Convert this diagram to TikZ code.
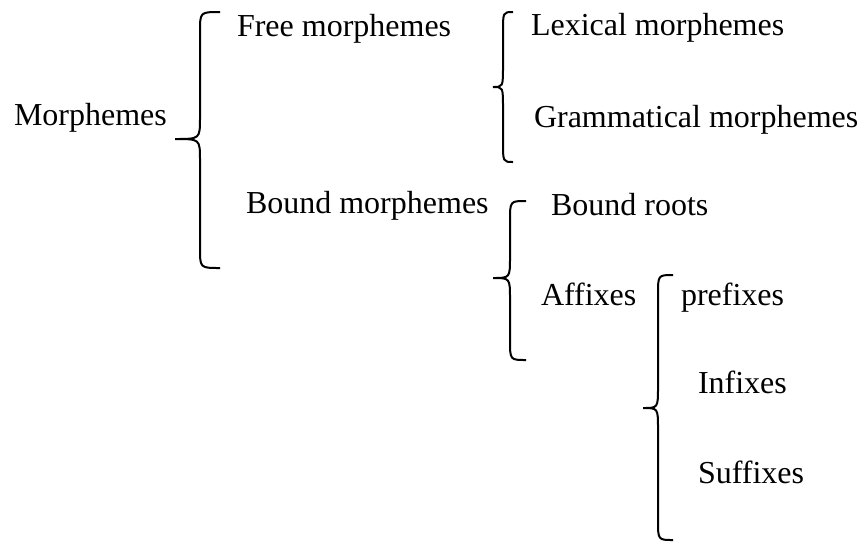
\documentclass[tikz,border=0pt]{standalone}
\usepackage{fontspec}
\setmainfont{Liberation Serif}
\tikzset{every path/.style={line width=2pt},
  word/.style={anchor=base west,inner sep=0pt,font=\fontsize{32}{38}\selectfont}}
% #1 end x, #2 spine x, #3 tip x, #4 top y, #5 tip y, #6 bottom y
\newcommand{\curlybrace}[6]{%
  \draw (#1,#4) .. controls (#2,#4) .. (#2,#4+20) -- (#2,#5-21)
    .. controls (#2,#5) .. (#3,#5) .. controls (#2,#5) .. (#2,#5+21)
    -- (#2,#6-20) .. controls (#2,#6) .. (#1,#6);}

\begin{document}
\begin{tikzpicture}[x=1pt,y=-1pt]
    \useasboundingbox (0,0) rectangle (867,542);
    \node[word] (morph) at (13,125) {Morphemes};
    \node[word] (free) at (236,36) {Free morphemes};
    \node[word] (bound) at (245,213) {Bound morphemes};
    \node[word] (lexical) at (530,35) {Lexical morphemes};
    \node[word] (gramm) at (533,127) {Grammatical morphemes};
    \node[word] (roots) at (550,215) {Bound roots};
    \node[word] (affixes) at (540,305) {Affixes};
    \node[word] (prefixes) at (680,305) {prefixes};
    \node[word] (infixes) at (697,393) {Infixes};
    \node[word] (suffixes) at (697,483) {Suffixes};

    \curlybrace{220}{200}{175}{12}{139}{268}
    \curlybrace{513}{503}{493}{12}{87}{162}
    \curlybrace{526}{510}{493}{201}{278}{360}
    \curlybrace{673}{658}{643}{275}{408}{540}
  \end{tikzpicture}
\end{document}
